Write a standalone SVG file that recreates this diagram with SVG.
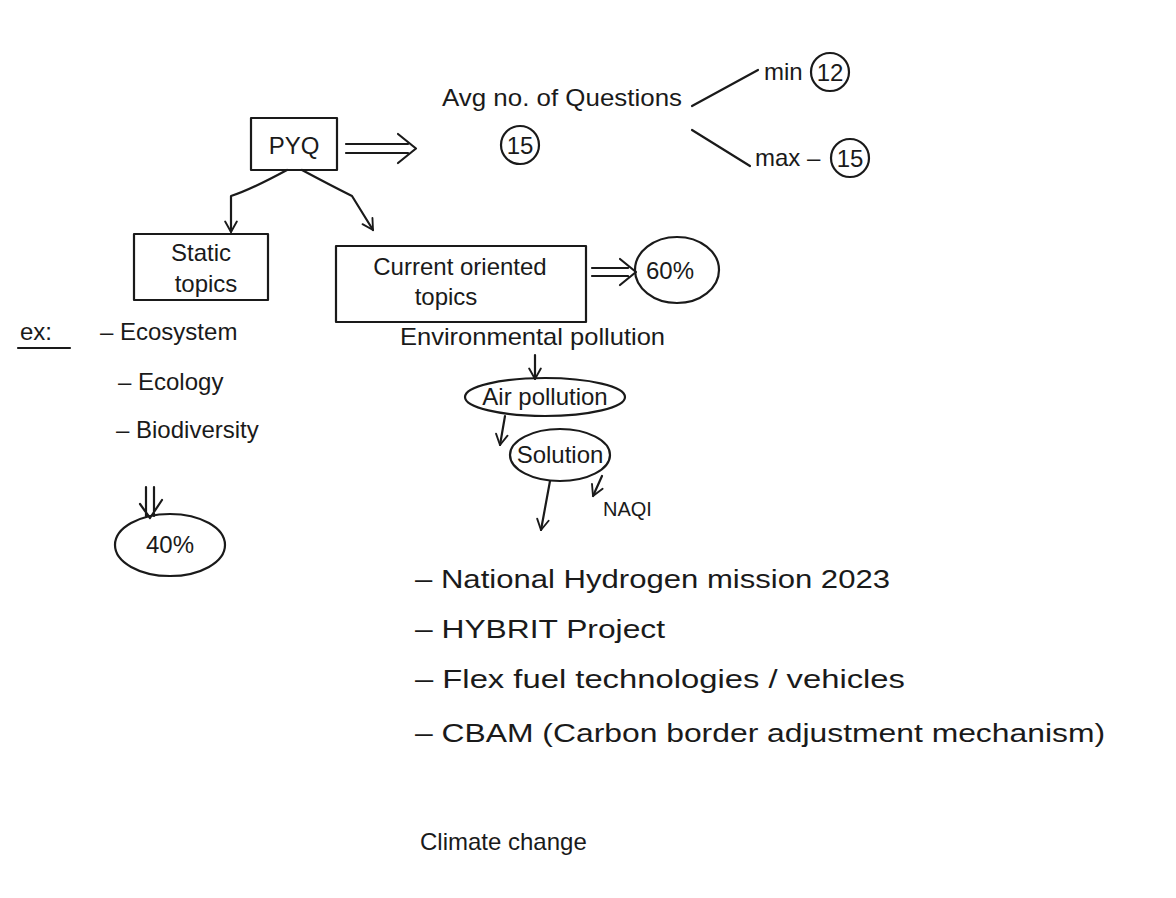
<svg xmlns="http://www.w3.org/2000/svg" width="1176" height="898" viewBox="0 0 1176 898">
<defs>
<style>
text{font-family:"Liberation Sans","DejaVu Sans",sans-serif;fill:#1a1a1a;font-size:24px}
.s{fill:none;stroke:#1a1a1a;stroke-width:2.2;stroke-linecap:round;stroke-linejoin:round}
.m{text-anchor:middle}
.l{font-size:26px}
</style>
<marker id="a" viewBox="0 0 12 12" refX="11" refY="6" markerWidth="14" markerHeight="14" orient="auto" markerUnits="userSpaceOnUse">
<path d="M2 1 L11 6 L2 11" fill="none" stroke="#1a1a1a" stroke-width="1.6" stroke-linecap="round" stroke-linejoin="round"/>
</marker>
</defs>
<rect width="1176" height="898" fill="#ffffff"/>

<g id="pyq"><rect class="s" x="251" y="118" width="86" height="52"/><text class="m" x="294" y="154">PYQ</text></g>
<g id="avg"><text class="m" x="562" y="106" textLength="240" lengthAdjust="spacingAndGlyphs">Avg no. of Questions</text>
<circle class="s" cx="520" cy="145" r="19"/><text class="m" x="520" y="154">15</text></g>
<g id="min"><text x="764" y="80">min</text><circle class="s" cx="830" cy="72" r="19"/><text class="m" x="830" y="81">12</text></g>
<g id="max"><text x="755" y="166">max –</text><circle class="s" cx="850" cy="158" r="19"/><text class="m" x="850" y="167">15</text></g>
<g id="static"><rect class="s" x="134" y="234" width="134" height="66"/><text class="m" x="201" y="261">Static</text><text class="m" x="206" y="292">topics</text></g>
<g id="current"><rect class="s" x="336" y="246" width="250" height="76"/><text class="m" x="460" y="275">Current oriented</text><text class="m" x="446" y="305">topics</text></g>
<g id="p60"><ellipse class="s" cx="677" cy="270" rx="42" ry="33"/><text class="m" x="670" y="279">60%</text></g>
<g id="examples"><text x="20" y="340">ex:</text><line class="s" x1="18" y1="348" x2="70" y2="348"/>
<text x="100" y="340">– Ecosystem</text><text x="118" y="390">– Ecology</text><text x="116" y="438">– Biodiversity</text></g>
<g id="p40"><ellipse class="s" cx="170" cy="545" rx="55" ry="31"/><text class="m" x="170" y="553">40%</text></g>
<g id="envpol"><text x="400" y="345" textLength="265" lengthAdjust="spacingAndGlyphs">Environmental pollution</text></g>
<g id="airpol"><ellipse class="s" cx="545" cy="397" rx="80" ry="19"/><text class="m" x="545" y="405">Air pollution</text></g>
<g id="solution"><ellipse class="s" cx="560" cy="455" rx="50" ry="26"/><text class="m" x="560" y="463">Solution</text></g>
<g id="naqi"><text x="603" y="516" style="font-size:20px">NAQI</text></g>
<g id="list">
<text class="l" x="415" y="588" textLength="475" lengthAdjust="spacingAndGlyphs">–  National Hydrogen mission 2023</text>
<text class="l" x="415" y="638" textLength="250" lengthAdjust="spacingAndGlyphs">–  HYBRIT Project</text>
<text class="l" x="415" y="688" textLength="490" lengthAdjust="spacingAndGlyphs">–  Flex fuel technologies / vehicles</text>
<text class="l" x="415" y="742" textLength="690" lengthAdjust="spacingAndGlyphs">–  CBAM (Carbon border adjustment mechanism)</text>
</g>
<g id="climate"><text x="420" y="850">Climate change</text></g>

<g id="connectors">
<path class="s" d="M346 144 H408 M346 153 H408 M398 134 L416 148.5 L398 163"/>
<path class="s" d="M692 106 L758 70"/>
<path class="s" d="M692 130 L750 166"/>
<path class="s" d="M287 170 Q250 190 231 196 L231 232" marker-end="url(#a)"/>
<path class="s" d="M302 170 Q330 185 352 196 L373 230" marker-end="url(#a)"/>
<path class="s" d="M592 268 H628 M592 276 H628 M620 259 L636 272 L620 285"/>
<path class="s" d="M146 487 V516 M154 487 V516 M140 504 L150 518 L162 500"/>
<path class="s" d="M535 355 V379" marker-end="url(#a)"/>
<path class="s" d="M505 416 L500 445" marker-end="url(#a)"/>
<path class="s" d="M550 481 L541 530" marker-end="url(#a)"/>
<path class="s" d="M602 476 L593 496" marker-end="url(#a)"/>
</g>
</svg>
